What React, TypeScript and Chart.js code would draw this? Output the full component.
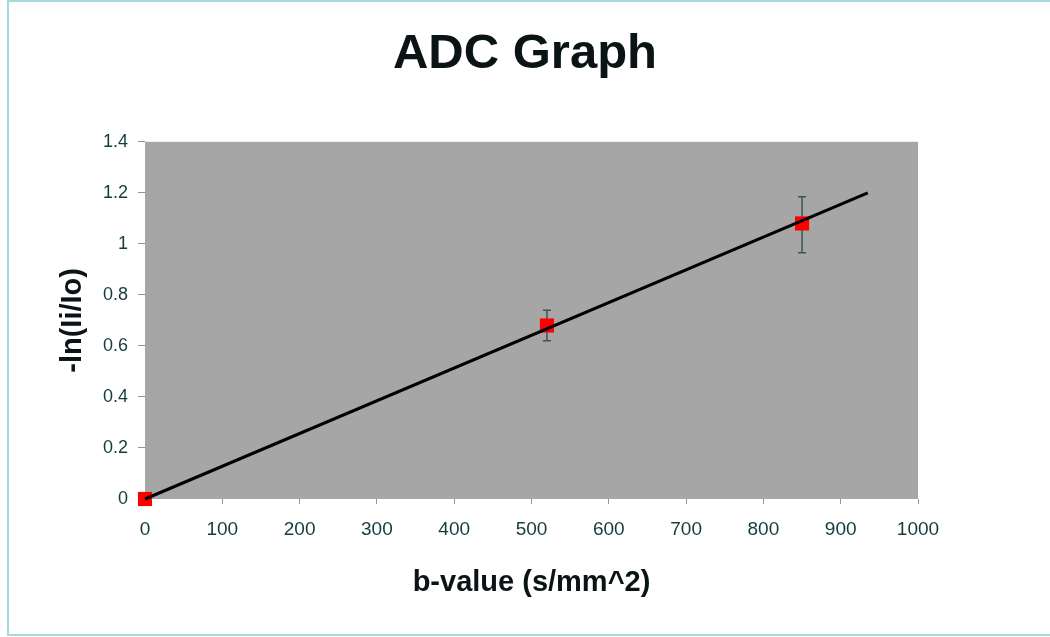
import React, { useEffect, useRef } from "react";
import { Chart, registerables } from "chart.js";

Chart.register(...registerables);

const bValues = [0, 520, 850];
const lnValues = [0, 0.68, 1.08];
const errLow = [0, 0.62, 0.965];
const errHigh = [0, 0.74, 1.185];
const fitX = [0, 935];
const fitY = [0, 1.2];

const FONT = "'Liberation Sans', Arial, sans-serif";

const plotBg = {
  id: "plotBg",
  beforeDraw(chart: any) {
    const { ctx, chartArea } = chart;
    ctx.save();
    ctx.fillStyle = "#a6a6a6";
    ctx.fillRect(chartArea.left, chartArea.top, chartArea.right - chartArea.left, chartArea.bottom - chartArea.top);
    ctx.restore();
  },
};

const errorBars = {
  id: "errorBars",
  beforeDatasetsDraw(chart: any) {
    const { ctx } = chart;
    const xs = chart.scales.x;
    const ys = chart.scales.y;
    ctx.save();
    ctx.strokeStyle = "#3d5555";
    ctx.lineWidth = 1.5;
    for (let i = 0; i < bValues.length; i++) {
      if (errHigh[i] === errLow[i]) continue;
      const x = xs.getPixelForValue(bValues[i]);
      const y1 = ys.getPixelForValue(errLow[i]);
      const y2 = ys.getPixelForValue(errHigh[i]);
      ctx.beginPath();
      ctx.moveTo(x, y1);
      ctx.lineTo(x, y2);
      ctx.moveTo(x - 4, y1);
      ctx.lineTo(x + 4, y1);
      ctx.moveTo(x - 4, y2);
      ctx.lineTo(x + 4, y2);
      ctx.stroke();
    }
    ctx.restore();
  },
};

export default function App() {
  const ref = useRef<HTMLCanvasElement>(null);
  useEffect(() => {
    if (!ref.current) return;
    const chart = new Chart(ref.current, {
      type: "scatter",
      data: {
        datasets: [
          {
            type: "line",
            label: "fit",
            data: fitX.map((x, i) => ({ x, y: fitY[i] })),
            borderColor: "#000000",
            borderWidth: 3,
            pointRadius: 0,
            fill: false,
            clip: false,
            order: 0,
          },
          {
            type: "scatter",
            label: "data",
            data: bValues.map((x, i) => ({ x, y: lnValues[i] })),
            pointStyle: "rect",
            pointRadius: 10,
            backgroundColor: "#ff0000",
            borderColor: "#ff0000",
            borderWidth: 0,
            clip: false,
            order: 1,
          },
        ],
      },
      options: {
        animation: false,
        responsive: false,
        layout: { padding: { left: 0, right: 0, top: 0, bottom: 0 } },
        plugins: {
          legend: { display: false },
          tooltip: { enabled: false },
          title: {
            display: true,
            text: "ADC Graph",
            color: "#0a1414",
            font: { family: FONT, size: 49, weight: "bold" },
            padding: { top: 25, bottom: 58 },
          },
        },
        scales: {
          x: {
            type: "linear",
            min: 0,
            max: 1000,
            ticks: {
              stepSize: 100,
              color: "#143c3c",
              font: { family: FONT, size: 19 },
              padding: 14,
              callback: (v: any) => String(v),
            },
            grid: { drawOnChartArea: false, drawTicks: true, tickLength: 5, color: "#8a9a9a" },
            border: { display: false },
            title: {
              display: true,
              text: "b-value (s/mm^2)",
              color: "#0a1414",
              font: { family: FONT, size: 29, weight: "bold" },
              padding: { top: 0, bottom: 37 },
            },
            afterFit: (s: any) => {
              s.height = 138;
            },
          },
          y: {
            type: "linear",
            min: 0,
            max: 1.4,
            ticks: {
              stepSize: 0.2,
              color: "#143c3c",
              font: { family: FONT, size: 18 },
              padding: 10,
              callback: (v: any) => String(Number(Number(v).toFixed(1))),
            },
            grid: { drawOnChartArea: false, drawTicks: true, tickLength: 7, color: "#8a9a9a" },
            border: { display: false },
            title: {
              display: true,
              text: "-ln(Ii/Io)",
              color: "#0a1414",
              font: { family: FONT, size: 29, weight: "bold" },
              padding: { top: 56, bottom: 0 },
            },
            afterFit: (s: any) => {
              s.width = 145;
            },
          },
          yRight: {
            type: "linear",
            position: "right",
            display: true,
            ticks: { display: false },
            grid: { display: false },
            border: { display: false },
            afterFit: (s: any) => {
              s.width = 132;
            },
          },
        },
      },
      plugins: [plotBg, errorBars],
    } as any);
    return () => chart.destroy();
  }, []);

  return (
    <div style={{ position: "absolute", left: 0, top: 0, width: 1050, height: 637, background: "#fff", overflow: "hidden" }}>
      <div
        style={{
          position: "absolute",
          left: 7,
          top: 0,
          width: 1100,
          height: 632,
          borderTop: "2px solid #a7dada",
          borderLeft: "2px solid #a7dada",
          borderBottom: "2px solid #a7dada",
        }}
      />
      <canvas ref={ref} width={1050} height={637} style={{ position: "absolute", left: 0, top: 0 }} />
    </div>
  );
}
